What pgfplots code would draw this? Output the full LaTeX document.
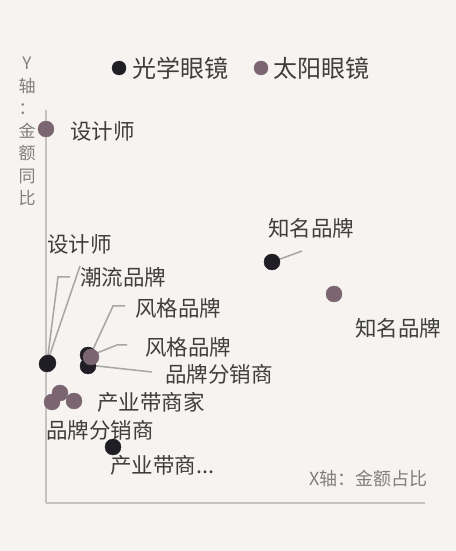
\documentclass[border=0pt]{standalone}
\usepackage{fontspec}
\setmainfont{Noto Sans CJK SC}
\usepackage{pgfplots}
\pgfplotsset{compat=1.18}
\definecolor{bgc}{HTML}{F6F3F0}
\definecolor{optc}{HTML}{1E1E24}
\definecolor{sunc}{HTML}{7A6570}
\definecolor{axisc}{HTML}{C4C2C0}
\definecolor{leadc}{HTML}{A6A6A6}
\definecolor{txt}{HTML}{3E3E3E}
\definecolor{axtxt}{HTML}{808080}

\begin{document}
\begin{tikzpicture}[
  lbl/.style={font=\fontsize{21.5bp}{26bp}\selectfont, text=txt, inner sep=0pt, anchor=west},
  lead/.style={draw=leadc, line width=1.5bp},
]
\fill[bgc] (0,0) rectangle (456bp,551bp);
\begin{axis}[
  at={(46bp,48bp)}, anchor=south west,
  scale only axis, width=379bp, height=393bp,
  xmin=0, xmax=379, ymin=0, ymax=393,
  axis lines=left,
  axis line style={-, draw=axisc, line width=1.6bp},
  xtick=\empty, ytick=\empty,
  clip=false,
  legend columns=2,
  legend style={at={(axis cs:196,435)}, anchor=center, draw=none, fill=none,
    font=\fontsize{24bp}{28bp}\selectfont, text=txt,
    /tikz/every even column/.append style={column sep=24bp}},
  legend image code/.code={\draw[#1, mark size=7bp] plot coordinates {(0bp,0bp)};},
]
% 光学眼镜
\addplot[only marks, mark=*, mark size=8bp, color=optc] coordinates
  {(226,241) (1,139) (2,140) (42,148) (42,137) (67,56)};
\addlegendentry{\hspace{4bp}光学眼镜}
% 太阳眼镜
\addplot[only marks, mark=*, mark size=8bp, color=sunc] coordinates
  {(0,374) (288,209) (45,146) (6,101) (14,110) (28,102)};
\addlegendentry{\hspace{4bp}太阳眼镜}

% leader lines
\draw[lead] (axis cs:226,241) -- (axis cs:256,252);
\draw[lead] (axis cs:1,140) -- (axis cs:34,237);
\draw[lead] (axis cs:1,140) -- (axis cs:12,226) -- (axis cs:24,226);
\draw[lead] (axis cs:44,147) -- (axis cs:67,197) -- (axis cs:79,197);
\draw[lead] (axis cs:46,148) -- (axis cs:71,158) -- (axis cs:81,158);
\draw[lead] (axis cs:42,138) -- (axis cs:106,131);

% point labels
\node[lbl] at (axis cs:24,372) {设计师};
\node[lbl] at (axis cs:222,275) {知名品牌};
\node[lbl] at (axis cs:309,175) {知名品牌};
\node[lbl] at (axis cs:1,259) {设计师};
\node[lbl] at (axis cs:34,226) {潮流品牌};
\node[lbl] at (axis cs:89,195) {风格品牌};
\node[lbl] at (axis cs:99,156) {风格品牌};
\node[lbl] at (axis cs:119,129) {品牌分销商};
\node[lbl] at (axis cs:51,101) {产业带商家};
\node[lbl] at (axis cs:0,73) {品牌分销商};
\node[lbl] at (axis cs:64,38) {产业带商...};

% axis titles
\node[font=\fontsize{18bp}{20bp}\selectfont, text=axtxt, inner sep=0pt, anchor=east]
  at (axis cs:382,24) {X轴：金额占比};
\node[font=\fontsize{17bp}{22.5bp}\selectfont, text=axtxt, inner sep=0pt, anchor=north, align=center]
  at (axis cs:-19,446) {Y\\轴\\：\\金\\额\\同\\比};
\end{axis}
\end{tikzpicture}
\end{document}
